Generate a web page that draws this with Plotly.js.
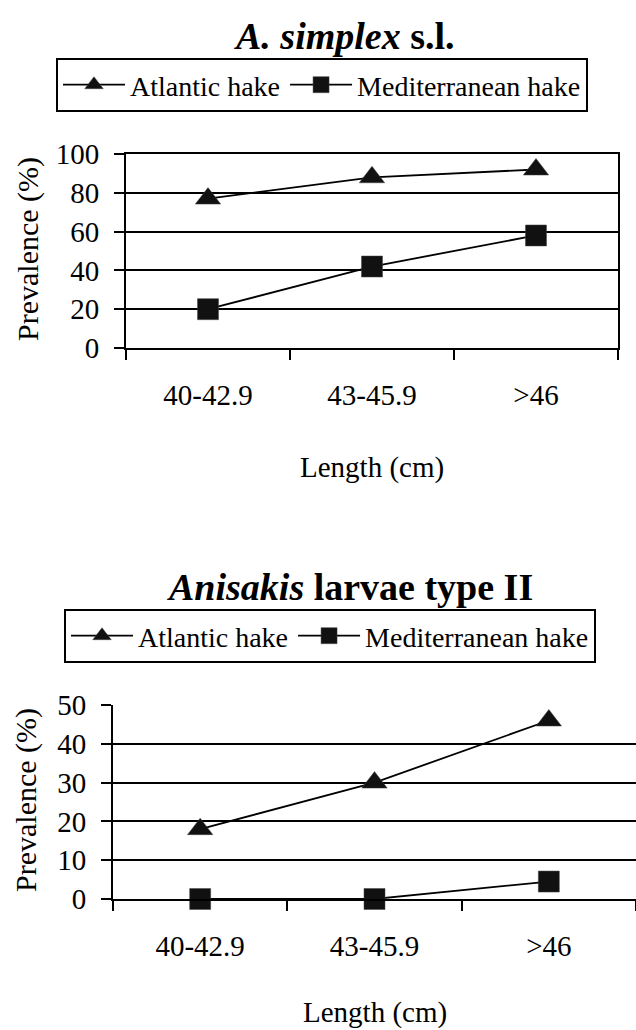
<!DOCTYPE html>
<html>
<head>
<meta charset="utf-8">
<script src="https://cdn.plot.ly/plotly-3.0.1.min.js"></script>
<style>html,body{margin:0;padding:0;background:#fff;}#chart{width:636px;height:1030px;}</style>
</head>
<body>
<div id="chart"></div>
<script>
var categories = ['40-42.9', '43-45.9', '>46'];
var seriesNames = ['Atlantic hake', 'Mediterranean hake'];
var simplexAtlantic = [77, 88, 92];
var simplexMediterranean = [20, 42, 58];
var typeIIAtlantic = [18, 30, 46];
var typeIIMediterranean = [0, 0, 4.5];
var yTitle = 'Prevalence (%)';
var xTitle = 'Length (cm)';
var title1 = '<b><i>A. simplex</i> s.l.</b>';
var title2 = '<b><i>Anisakis</i> larvae type II</b>';

var W = 636, H = 1030;
var FONT = 'Liberation Serif';
function px(x){ return x / W; }
function py(y){ return 1 - y / H; }

function trace(y, sym, sz, xa, ya, leg){
  return {
    x: categories, y: y, type: 'scatter', mode: 'lines+markers',
    name: sym === 'triangle-up' ? seriesNames[0] : seriesNames[1],
    xaxis: xa, yaxis: ya, legend: leg, cliponaxis: false,
    line: {color: '#000', width: 1.8},
    marker: {symbol: sym, size: sz, color: '#111', line: {color: '#444', width: 0.5}}
  };
}

var data = [
  trace(simplexAtlantic, 'triangle-up', 22, 'x', 'y', 'legend'),
  trace(simplexMediterranean, 'square', 21, 'x', 'y', 'legend'),
  trace(typeIIAtlantic, 'triangle-up', 22, 'x2', 'y2', 'legend2'),
  trace(typeIIMediterranean, 'square', 21, 'x2', 'y2', 'legend2')
];

function xax(dom){
  return {
    domain: dom, type: 'category', range: [-0.5, 2.5], tickson: 'boundaries',
    ticks: 'outside', ticklen: 10, tickwidth: 2, tickcolor: '#000',
    showline: true, linecolor: '#000', linewidth: 2, mirror: true,
    showgrid: false, zeroline: false, fixedrange: true,
    tickfont: {family: FONT, size: 29, color: '#000'}, ticklabelstandoff: 20
  };
}
function yax(dom, max, dt, anchor, mirror){
  return {
    domain: dom, range: [0, max], dtick: dt, tick0: 0, anchor: anchor,
    ticks: 'outside', ticklen: 10, tickwidth: 2, tickcolor: '#000',
    showline: true, linecolor: '#000', linewidth: 2, mirror: mirror,
    showgrid: true, gridcolor: '#000', gridwidth: 2, zeroline: false,
    tickfont: {family: FONT, size: 29, color: '#000'}, ticklabelstandoff: 9
  };
}

var legendCommon = {
  orientation: 'h', xanchor: 'left', yanchor: 'top',
  bordercolor: '#000', borderwidth: 2, bgcolor: '#fff',
  font: {family: FONT, size: 28, color: '#000'}, itemwidth: 62, tracegroupgap: 0
};

var layout = {
  width: W, height: H, margin: {l: 0, r: 0, t: 0, b: 0},
  paper_bgcolor: '#fff', plot_bgcolor: '#fff', showlegend: true,
  xaxis: Object.assign(xax([px(126), px(618)]), {anchor: 'y'}),
  yaxis: yax([py(348), py(154)], 100, 20, 'x', true),
  xaxis2: Object.assign(xax([px(113), 1]), {anchor: 'y2', mirror: false}),
  yaxis2: yax([py(899), py(705)], 50, 10, 'x2', false),
  legend: Object.assign({x: px(56), y: py(58)}, legendCommon),
  legend2: Object.assign({x: px(64), y: py(609)}, legendCommon),
  annotations: [
    {text: title1, x: px(344), y: py(36), xref: 'paper', yref: 'paper', showarrow: false, xanchor: 'center', yanchor: 'middle', font: {family: FONT, size: 38, color: '#000'}},
    {text: title2, x: px(350), y: py(587), xref: 'paper', yref: 'paper', showarrow: false, xanchor: 'center', yanchor: 'middle', font: {family: FONT, size: 38, color: '#000'}},
    {text: yTitle, x: px(28), y: py(249), xref: 'paper', yref: 'paper', showarrow: false, textangle: -90, xanchor: 'center', yanchor: 'middle', font: {family: FONT, size: 30, color: '#000'}},
    {text: yTitle, x: px(26), y: py(800), xref: 'paper', yref: 'paper', showarrow: false, textangle: -90, xanchor: 'center', yanchor: 'middle', font: {family: FONT, size: 30, color: '#000'}},
    {text: xTitle, x: px(372), y: py(467), xref: 'paper', yref: 'paper', showarrow: false, xanchor: 'center', yanchor: 'middle', font: {family: FONT, size: 29, color: '#000'}},
    {text: xTitle, x: px(375), y: py(1012), xref: 'paper', yref: 'paper', showarrow: false, xanchor: 'center', yanchor: 'middle', font: {family: FONT, size: 29, color: '#000'}}
  ]
};

Plotly.newPlot('chart', data, layout, {staticPlot: true, displayModeBar: false});
</script>
</body>
</html>
